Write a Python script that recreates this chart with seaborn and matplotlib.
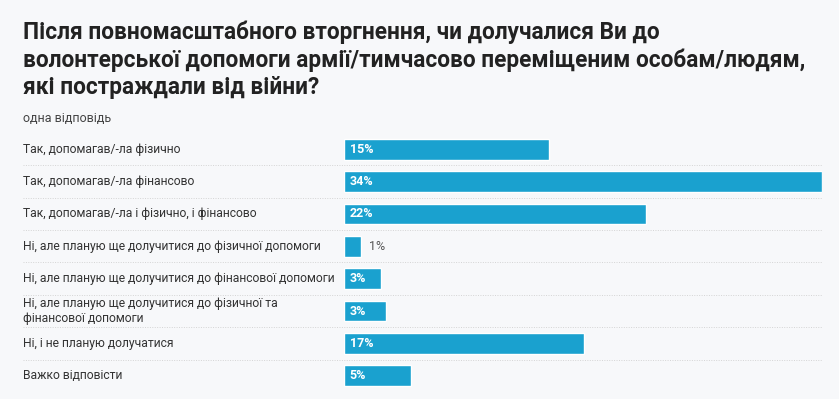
import matplotlib
matplotlib.use("Agg")
import matplotlib.pyplot as plt
import matplotlib.transforms as mtransforms
import pandas as pd
import seaborn as sns

# answers and shares (%)
answers = [
    "Так, допомагав/-ла фізично",
    "Так, допомагав/-ла фінансово",
    "Так, допомагав/-ла і фізично, і фінансово",
    "Ні, але планую ще долучитися до фізичної допомоги",
    "Ні, але планую ще долучитися до фінансової допомоги",
    "Ні, але планую ще долучитися до фізичної та\nфінансової допомоги",
    "Ні, і не планую долучатися",
    "Важко відповісти",
]
shares = [14.6, 34.0, 21.5, 1.2, 2.6, 3.0, 17.1, 4.8]

title = ("Після повномасштабного вторгнення, чи долучалися Ви до\n"
         "волонтерської допомоги армії/тимчасово переміщеним особам/людям,\n"
         "які постраждали від війни?")
subtitle = "одна відповідь"

df = pd.DataFrame({"answer": answers, "share": shares})

sns.set_style("white")
plt.rcParams['font.family'] = ['Roboto', 'DejaVu Sans']

bg = "#f7f8fa"
bar_col = "#1aa1cf"

fig = plt.figure(figsize=(8.39, 3.99), dpi=100, facecolor=bg)
ax = fig.add_axes([344/839, 1-392/399, (822-344)/839, (392-133)/399])
ax.set_facecolor(bg)

sns.barplot(data=df, x="share", y="answer", color=bar_col, width=0.64,
            saturation=1, ax=ax)

ax.set_xlim(0, 34)
ax.set_ylim(len(answers)-0.5, -0.5)
ax.set_xticks([])
ax.set_yticks([])
ax.set_xlabel("")
ax.set_ylabel("")
for s in ax.spines.values():
    s.set_visible(False)

trans = mtransforms.blended_transform_factory(fig.transFigure, ax.transData)
for i, (a, v) in enumerate(zip(answers, shares)):
    ax.text(23/839, i, a, transform=trans, ha="left", va="center",
            fontsize=8.75, color="#333333", linespacing=1.15)
    lab = f"{v:.0f}%"
    if v < 2:
        ax.annotate(lab, (v, i), xytext=(6, 0), textcoords="offset points",
                    ha="left", va="center", fontsize=9, color="#555555")
    else:
        ax.annotate(lab, (0, i), xytext=(4, 0), textcoords="offset points",
                    ha="left", va="center", fontsize=9, color="white",
                    fontweight="bold")

# dotted separators between rows
x0 = -(344-23)/(822-344)
for i in range(len(answers)-1):
    ax.axhline(i+0.5, xmin=x0, xmax=1, clip_on=False, ls=(0, (1, 1.5)),
               color="#d4d4d4", lw=0.7)

fig.text(23/839, 1-21/399, title, ha="left", va="top", fontsize=16.3,
         fontweight="bold", color="#222222", linespacing=1.22)
fig.text(23/839, 1-118/399, subtitle, ha="left", va="center", fontsize=9,
         color="#444444")

fig.savefig("out.png", dpi=100, facecolor=bg)
